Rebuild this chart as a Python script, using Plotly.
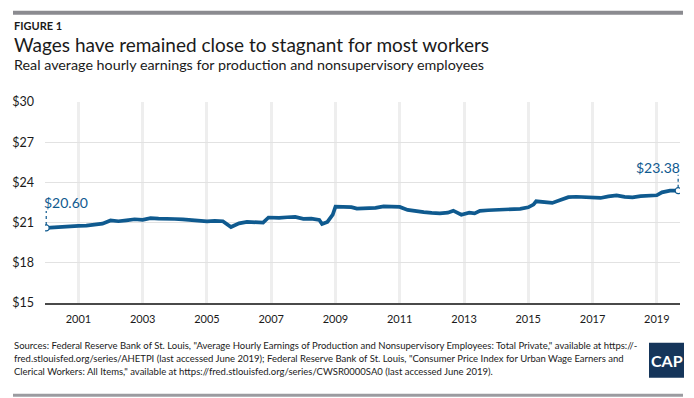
import plotly.graph_objects as go

# ---- data ----
DATES = [
    "2000-01-01", "2000-04-01", "2000-07-01", "2000-10-01",
    "2001-01-01", "2001-04-01", "2001-07-01", "2001-10-01",
    "2002-01-01", "2002-04-01", "2002-07-01", "2002-10-01",
    "2003-01-01", "2003-04-01", "2003-07-01", "2003-10-01",
    "2004-01-01", "2004-04-01", "2004-07-01", "2004-10-01",
    "2005-01-01", "2005-04-01", "2005-07-01", "2005-10-01",
    "2006-01-01", "2006-04-01", "2006-07-01", "2006-10-01", "2006-12-01",
    "2007-04-01", "2007-07-01", "2007-10-01",
    "2008-01-01", "2008-04-01", "2008-07-01", "2008-08-01", "2008-10-01", "2008-12-01",
    "2009-01-01", "2009-04-01", "2009-07-01", "2009-09-01",
    "2010-01-01", "2010-04-01", "2010-07-01", "2010-10-01",
    "2011-01-01", "2011-04-01", "2011-07-01", "2011-10-01",
    "2012-01-01", "2012-04-01", "2012-07-01", "2012-09-01", "2012-12-01",
    "2013-03-01", "2013-05-01", "2013-07-01", "2013-10-01",
    "2014-01-01", "2014-04-01", "2014-07-01", "2014-10-01",
    "2015-01-01", "2015-03-01", "2015-04-01", "2015-07-01", "2015-10-01",
    "2016-01-01", "2016-04-01", "2016-07-01", "2016-10-01",
    "2017-01-01", "2017-04-01", "2017-07-01", "2017-10-01",
    "2018-01-01", "2018-04-01", "2018-07-01", "2018-10-01",
    "2019-01-01", "2019-03-01", "2019-06-01", "2019-09-01",
]
WAGES = [
    20.60, 20.65, 20.67, 20.71,
    20.76, 20.78, 20.84, 20.92,
    21.16, 21.10, 21.17, 21.25,
    21.20, 21.33, 21.29, 21.25,
    21.27, 21.24, 21.20, 21.15,
    21.09, 21.13, 21.10, 20.67,
    20.94, 21.05, 21.00, 21.00, 21.38,
    21.35, 21.40, 21.42,
    21.28, 21.29, 21.20, 20.90, 21.05, 21.60,
    22.19, 22.20, 22.15, 22.04,
    22.04, 22.10, 22.21, 22.20,
    22.17, 21.95, 21.85, 21.78,
    21.72, 21.69, 21.74, 21.89, 21.59,
    21.74, 21.69, 21.88, 21.92,
    21.95, 22.02, 22.00, 22.03,
    22.14, 22.34, 22.59, 22.54, 22.47,
    22.68, 22.90, 22.93, 22.91,
    22.91, 22.84, 22.96, 23.03,
    22.92, 22.88, 22.97, 23.00,
    23.04, 23.26, 23.38, 23.38,
]
X_TICKS = ["2001-01-01", "2003-01-01", "2005-01-01", "2007-01-01", "2009-01-01",
           "2011-01-01", "2013-01-01", "2015-01-01", "2017-01-01", "2019-01-01"]
X_TICK_LABELS = ["2001", "2003", "2005", "2007", "2009",
                 "2011", "2013", "2015", "2017", "2019"]
Y_TICKS = [15, 18, 21, 24, 27, 30]
Y_TICK_LABELS = ["$15", "$18", "$21", "$24", "$27", "$30"]

FIG_LABEL = "FIGURE 1"
TITLE = "Wages have remained close to stagnant for most workers"
SUBTITLE = "Real average hourly earnings for production and nonsupervisory employees"
SOURCE_LINES = [
    'Sources: Federal Reserve Bank of St. Louis, "Average Hourly Earnings of Production and Nonsupervisory Employees: Total Private," available at https://-',
    'fred.stlouisfed.org/series/AHETPI (last accessed June 2019); Federal Reserve Bank of St. Louis, "Consumer Price Index for Urban Wage Earners and',
    'Clerical Workers: All Items," available at https://fred.stlouisfed.org/series/CWSR0000SA0 (last accessed June 2019).',
]

# ---- styling / layout ----
W, H = 694, 398
L, R, T, B = 45, 680, 102.3, 303.3
BLUE = "#0f5a8f"
FONT = "Lato, 'Open Sans', sans-serif"
TEXT = "#1a1a1a"


def px(x):
    return (x - L) / (R - L)


def py(y):
    return (B - y) / (B - T)


fig = go.Figure()
fig.add_trace(go.Scatter(
    x=DATES, y=WAGES, mode="lines",
    line=dict(color=BLUE, width=3.7, shape="linear"),
    hoverinfo="skip", showlegend=False,
))
fig.add_trace(go.Scatter(
    x=[DATES[0], DATES[-1]], y=[WAGES[0], WAGES[-1]], mode="markers",
    marker=dict(size=6, color="white", line=dict(color=BLUE, width=1.2)),
    hoverinfo="skip", showlegend=False,
))

shapes = [
    dict(type="rect", xref="paper", yref="paper", x0=px(13), x1=px(683),
         y0=py(15), y1=py(11), fillcolor="#8b8b90", line=dict(width=0), layer="above"),
    dict(type="rect", xref="paper", yref="paper", x0=px(13), x1=px(683),
         y0=py(397), y1=py(394), fillcolor="#9b9ba0", line=dict(width=0), layer="above"),
    dict(type="rect", xref="paper", yref="paper", x0=px(649), x1=px(684),
         y0=py(378), y1=py(343), fillcolor="#15355a", line=dict(width=0), layer="above"),
    # dotted leaders
    dict(type="line", xref="x", yref="y", x0=DATES[0], x1=DATES[0],
         ysizemode="pixel", yanchor=WAGES[0], y0=3, y1=17,
         line=dict(color=BLUE, width=1.2, dash="dot")),
    dict(type="line", xref="x", yref="y", x0=DATES[-1], x1=DATES[-1],
         ysizemode="pixel", yanchor=WAGES[-1], y0=3, y1=16,
         line=dict(color=BLUE, width=1.2, dash="dot")),
]

annotations = [
    dict(text=f"<b>{FIG_LABEL}</b>", xref="paper", yref="paper", x=px(12), y=py(25.5),
         xanchor="left", yanchor="middle", showarrow=False,
         font=dict(family=FONT, size=11, color=TEXT)),
    dict(text=TITLE, xref="paper", yref="paper", x=px(12), y=py(45),
         xanchor="left", yanchor="middle", showarrow=False,
         font=dict(family=FONT, size=19, color=TEXT)),
    dict(text=SUBTITLE, xref="paper", yref="paper", x=px(12), y=py(64.5),
         xanchor="left", yanchor="middle", showarrow=False,
         font=dict(family=FONT, size=14.3, color=TEXT)),
    dict(text="<b>CAP</b>", xref="paper", yref="paper", x=px(666.5), y=py(361),
         xanchor="center", yanchor="middle", showarrow=False,
         font=dict(family=FONT, size=16, color="white")),
    dict(text=f"${WAGES[0]:.2f}", x=DATES[0], y=WAGES[0], xref="x", yref="y",
         xanchor="left", yanchor="middle", xshift=-4, yshift=25, showarrow=False,
         font=dict(family=FONT, size=14, color=BLUE)),
    dict(text=f"${WAGES[-1]:.2f}", x=DATES[-1], y=WAGES[-1], xref="x", yref="y",
         xanchor="right", yanchor="middle", xshift=4, yshift=23, showarrow=False,
         font=dict(family=FONT, size=14, color=BLUE)),
]
for i, line in enumerate(SOURCE_LINES):
    annotations.append(dict(
        text=line, xref="paper", yref="paper", x=px(12), y=py(346 + 13 * i),
        xanchor="left", yanchor="middle", showarrow=False,
        font=dict(family=FONT, size=9.5, color=TEXT)))

fig.update_layout(
    width=W, height=H, autosize=False,
    margin=dict(l=L, r=W - R, t=T, b=H - B, pad=0),
    paper_bgcolor="white", plot_bgcolor="white",
    shapes=shapes, annotations=annotations,
    xaxis=dict(
        type="date", range=["1999-12-18", "2019-09-22"],
        tickvals=X_TICKS, ticktext=X_TICK_LABELS,
        showgrid=True, gridcolor="#eeeeee", gridwidth=3,
        showline=True, linecolor="#4a4a4a", linewidth=1.5,
        ticks="", ticklabelstandoff=5,
        tickfont=dict(family=FONT, size=11, color=TEXT),
        zeroline=False, fixedrange=True,
    ),
    yaxis=dict(
        range=[15, 30], tickvals=Y_TICKS, ticktext=Y_TICK_LABELS,
        showgrid=True, gridcolor="#e2e2e2", gridwidth=1,
        showline=False, zeroline=False, ticks="",
        ticklabelstandoff=10,
        tickfont=dict(family=FONT, size=12.5, color=TEXT),
        fixedrange=True,
    ),
)

fig.write_html("out.html", post_script="document.body.style.margin='0';",
               config={"displayModeBar": False})
